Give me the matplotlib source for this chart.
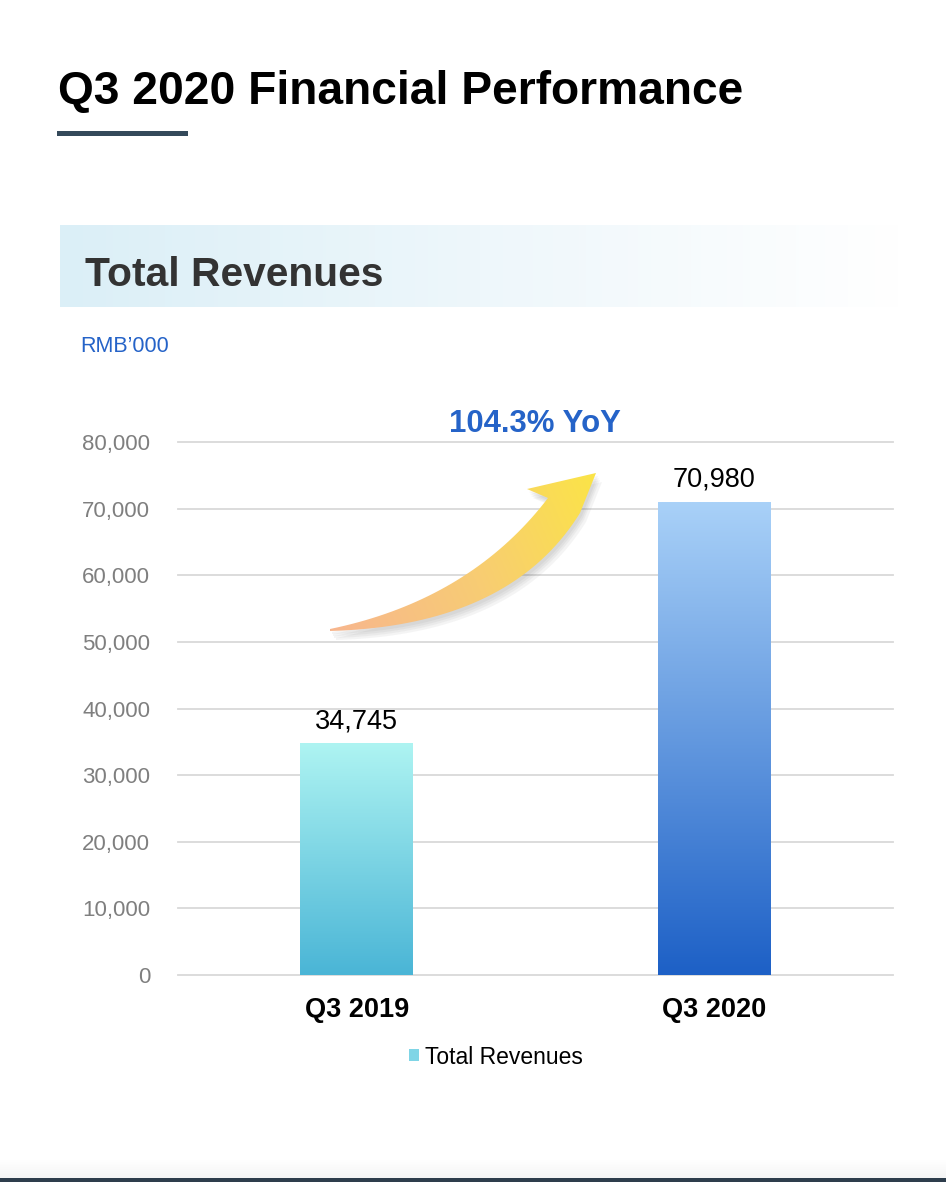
import matplotlib.pyplot as plt
import numpy as np
from matplotlib.colors import LinearSegmentedColormap
from matplotlib.patches import PathPatch, Patch, Rectangle
from matplotlib.path import Path
from matplotlib.ticker import FuncFormatter

plt.rcParams["font.family"] = ["Liberation Sans", "DejaVu Sans"]

# data
categories = ["Q3 2019", "Q3 2020"]
revenues = [34745, 70980]
y_ticks = [0, 10000, 20000, 30000, 40000, 50000, 60000, 70000, 80000]
series_name = "Total Revenues"
growth_label = "104.3% YoY"

bar_tops = ["#aef4f2", "#a9d1f8"]
bar_bottoms = ["#4ab5d6", "#1d60c6"]
blue = "#2563c8"

W, H = 946, 1182
fig = plt.figure(figsize=(W / 100, H / 100), dpi=100)

# background layer in pixel coordinates
bg = fig.add_axes([0, 0, 1, 1], zorder=0)
bg.set_xlim(0, W)
bg.set_ylim(H, 0)
bg.axis("off")

bg.text(58, 104, "Q3 2020 Financial Performance", fontsize=33.2,
        fontweight="bold", color="black", va="baseline", ha="left")
bg.add_patch(Rectangle((57, 131), 131, 5, color="#34495a", lw=0))

# header band with fading gradient
band_cmap = LinearSegmentedColormap.from_list("band", ["#dbeff7", "#eef7fb", "#ffffff"])
bg.imshow(np.linspace(0, 1, 256).reshape(1, -1), cmap=band_cmap,
          extent=(60, 900, 307, 225), aspect="auto", zorder=1)
bg.text(85, 285.5, "Total Revenues", fontsize=29.3, fontweight="bold",
        color="#333333", va="baseline", ha="left", zorder=2)
bg.text(80, 352, "RMB\u2019000", fontsize=15.5, color=blue,
        va="baseline", ha="left")

# bottom strip
shade_cmap = LinearSegmentedColormap.from_list("shade", ["#ffffff", "#f5f5f5"])
bg.imshow(np.linspace(0, 1, 64).reshape(-1, 1), cmap=shade_cmap,
          extent=(0, W, 1178, 1160), aspect="auto", zorder=1)
bg.add_patch(Rectangle((0, 1178), W, 4, color="#2e3d4c", lw=0, zorder=2))
bg.set_xlim(0, W)
bg.set_ylim(H, 0)

# chart
ax = fig.add_axes([178 / W, (H - 975) / H, (893 - 178) / W, (975 - 442) / H], zorder=1)
ax.patch.set_alpha(0)
x = np.arange(len(categories))
bars = ax.bar(x, revenues, width=0.316, color="none", zorder=2)

grad = np.linspace(0, 1, 256).reshape(-1, 1)
for bar, top, bottom in zip(bars, bar_tops, bar_bottoms):
    cmap = LinearSegmentedColormap.from_list("bar", [bottom, top])
    x0, w, h = bar.get_x(), bar.get_width(), bar.get_height()
    ax.imshow(grad, cmap=cmap, origin="lower", extent=(x0, x0 + w, 0, h),
              aspect="auto", zorder=2)
    ax.annotate(f"{h:,.0f}", (x0 + w / 2, h), xytext=(0, 11),
                textcoords="offset points", ha="center", va="baseline",
                fontsize=19.5, color="black", annotation_clip=False)

ax.set_xlim(-0.5, 1.5)
ax.set_ylim(0, 80000)
ax.set_yticks(y_ticks)
ax.yaxis.set_major_formatter(FuncFormatter(lambda v, p: f"{v:,.0f}"))
ax.set_xticks(x)
ax.set_xticklabels(categories, fontsize=19.5, fontweight="bold", color="black")
ax.tick_params(axis="y", length=0, pad=20, labelsize=16, labelcolor="#7f7f7f")
ax.tick_params(axis="x", length=0, pad=16)
for s in ax.spines.values():
    s.set_visible(False)
ax.yaxis.grid(True, color="#d9d9d9", lw=1.3)
ax.set_axisbelow(True)
for gl in ax.get_ygridlines():
    gl.set_clip_on(False)

ax.legend(handles=[Patch(facecolor="#7fd5e6", edgecolor="none", label=series_name)],
          loc="center", bbox_to_anchor=(496 / W, 1 - 1057 / H),
          bbox_transform=fig.transFigure, frameon=False, fontsize=16.5,
          handlelength=0.45, handleheight=0.45, handletextpad=0.28)

# overlay: curved growth arrow
top_ax = fig.add_axes([0, 0, 1, 1], zorder=2)
top_ax.set_xlim(0, W)
top_ax.set_ylim(H, 0)
top_ax.axis("off")


def qbez(p0, p1, p2, n=40):
    t = np.linspace(0, 1, n)[:, None]
    return (1 - t) ** 2 * np.array(p0) + 2 * (1 - t) * t * np.array(p1) + t ** 2 * np.array(p2)


inner = qbez((330, 629), (470, 600), (548, 498))
outer = qbez((330, 631), (510, 626), (580, 513))
head = np.array([(527, 489), (596, 473)])
verts = np.vstack([inner, head, outer[::-1]])
arrow_path = Path(np.vstack([verts, verts[:1]]), closed=True)

# soft shadow under the arrow
for dx, dy in [(2, 3), (3, 5), (4, 7), (6, 9)]:
    sh = Path(arrow_path.vertices + np.array([dx, dy]), closed=True)
    top_ax.add_patch(PathPatch(sh, facecolor="#505050", edgecolor="none",
                               alpha=0.06, zorder=1))

clip = PathPatch(arrow_path, facecolor="none", edgecolor="none", zorder=2)
top_ax.add_patch(clip)
gx, gy = np.meshgrid(np.linspace(326, 600, 200), np.linspace(468, 634, 120))
tt = np.clip(0.8 * (gx - 330) / 266 + 0.2 * (630 - gy) / 157, 0, 1)
arrow_cmap = LinearSegmentedColormap.from_list("arrow", ["#f7b68e", "#f8cc74", "#fbe447"])
im = top_ax.imshow(tt, cmap=arrow_cmap, extent=(326, 600, 634, 468),
                   origin="upper", aspect="auto", interpolation="bilinear", zorder=3)
im.set_clip_path(clip)
top_ax.set_xlim(0, W)
top_ax.set_ylim(H, 0)

top_ax.text(535, 432, growth_label, fontsize=22.4, fontweight="bold",
            color=blue, ha="center", va="baseline")

fig.savefig("out.png", dpi=100)
